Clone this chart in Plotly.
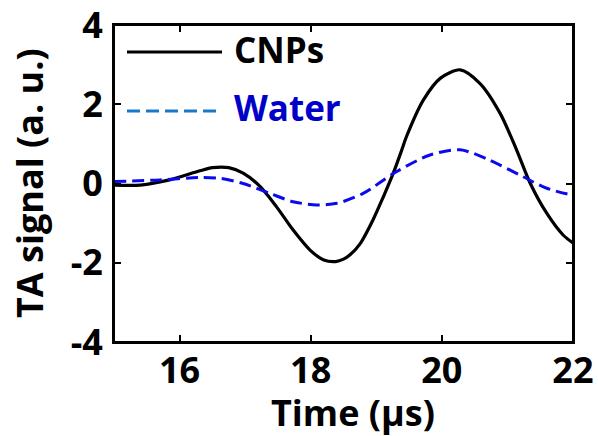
import plotly.graph_objects as go

time_cnps = [15.0, 15.4, 15.85, 16.31, 16.5, 16.75, 16.97, 17.23, 17.48, 17.73, 17.99, 18.2, 18.38,
             18.5, 18.6, 18.75, 18.95, 19.11, 19.26, 19.39, 19.46, 19.72, 19.98, 20.28, 20.58, 20.89,
             21.14, 21.35, 21.6, 21.85, 22.0]
sig_cnps = [-0.04, -0.04, 0.09, 0.32, 0.40, 0.40, 0.26, -0.08, -0.59, -1.17, -1.68, -1.93, -1.97,
            -1.91, -1.80, -1.53, -0.92, -0.33, 0.26, 0.85, 1.18, 2.11, 2.66, 2.87, 2.53, 1.77,
            0.85, 0.0, -0.75, -1.3, -1.5]

time_water = [15.0, 15.7, 16.3, 16.62, 16.97, 17.38, 17.73, 18.09, 18.4, 18.8, 19.28, 19.82,
              20.28, 20.73, 21.24, 21.6, 22.0]
sig_water = [0.05, 0.09, 0.15, 0.13, 0.0, -0.25, -0.46, -0.54, -0.50, -0.25, 0.27, 0.72,
             0.85, 0.59, 0.17, -0.12, -0.30]

x_ticks = [16, 18, 20, 22]
y_ticks = [-4, -2, 0, 2, 4]

FONT = "Open Sans"

fig = go.Figure()
fig.add_trace(go.Scatter(x=time_cnps, y=sig_cnps, mode="lines", name="CNPs",
                         line=dict(color="black", width=3.2, shape="spline", smoothing=0.8)))
fig.add_trace(go.Scatter(x=time_water, y=sig_water, mode="lines", name="Water",
                         line=dict(color="#0a0aee", width=3, dash="12px,6px", shape="spline", smoothing=0.8)))

W, H = 598, 436
L, R, T, B = 114, 25, 25, 94
pw, ph = W - L - R, H - T - B
def px(x):
    return (x - L) / pw
def py(y):
    return 1 - (y - T) / ph

# plot frame
fig.add_shape(type="rect", xref="paper", yref="paper", x0=0, x1=1, y0=0, y1=1,
              line=dict(color="black", width=2), layer="above")

# legend (drawn manually to match long sample lines)
fig.add_shape(type="line", xref="paper", yref="paper", x0=px(127), x1=px(222), y0=py(52), y1=py(52),
              line=dict(color="black", width=3))
fig.add_shape(type="line", xref="paper", yref="paper", x0=px(127), x1=px(220), y0=py(111), y1=py(111),
              line=dict(color="#1a78c8", width=3, dash="13px,6px"))
fig.add_annotation(xref="paper", yref="paper", x=px(232), y=py(50), text="<b>CNPs</b>", showarrow=False,
                   xanchor="left", yanchor="middle", font=dict(family=FONT, size=35, color="black"))
fig.add_annotation(xref="paper", yref="paper", x=px(232), y=py(108), text="<b>Water</b>", showarrow=False,
                   xanchor="left", yanchor="middle", font=dict(family=FONT, size=35, color="#0000c8"))

# axis titles
fig.add_annotation(xref="paper", yref="paper", x=px(353), y=py(412), text="<b>Time (µs)</b>", showarrow=False,
                   xanchor="center", yanchor="middle", font=dict(family=FONT, size=36, color="black"))
fig.add_annotation(xref="paper", yref="paper", x=px(29), y=py(183), text="<b>TA signal (a. u.)</b>",
                   showarrow=False, textangle=-90,
                   xanchor="center", yanchor="middle", font=dict(family=FONT, size=36, color="black"))

axis_common = dict(showgrid=False, zeroline=False, showline=True, linecolor="black", linewidth=2,
                   mirror="ticks", ticks="inside", ticklen=7, tickwidth=2, tickcolor="black",
                   ticklabeloverflow="allow",
                   tickfont=dict(family=FONT, size=36, color="black"))

fig.update_xaxes(range=[15, 22.001], tickvals=x_ticks, ticktext=[f"<b>{v}</b>" for v in x_ticks],
                 ticklabelstandoff=-4, **axis_common)
fig.update_yaxes(range=[-4.001, 4.001], tickvals=y_ticks, ticktext=[f"<b>{v}</b>" for v in y_ticks],
                 ticklabelstandoff=2, **axis_common)

fig.update_layout(width=W, height=H, margin=dict(l=L, r=R, t=T, b=B, autoexpand=False),
                  plot_bgcolor="white", paper_bgcolor="white", showlegend=False,
                  font=dict(family=FONT))

fig.write_html("out.html", config={"displayModeBar": False},
               post_script="document.body.style.margin='0';")
